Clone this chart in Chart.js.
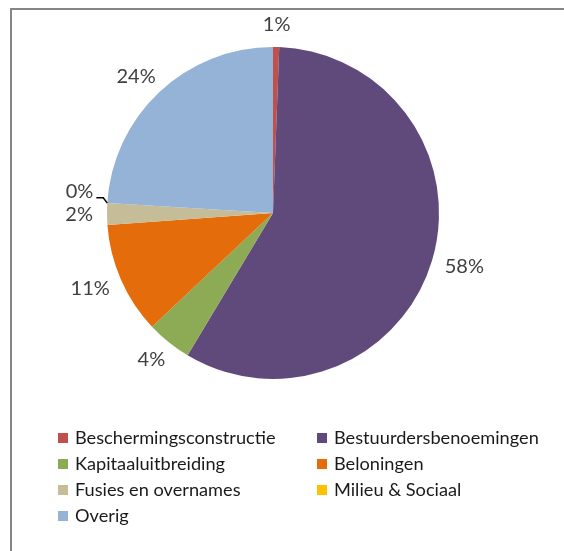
<!DOCTYPE html>
<html>
<head>
<meta charset="utf-8">
<script src="https://cdn.jsdelivr.net/npm/chart.js@4/dist/chart.umd.min.js"></script>
<style>
  html, body { margin: 0; padding: 0; background: #fff; }
  #wrap { position: relative; width: 564px; height: 551px; overflow: hidden; }
  #frame { position: absolute; left: 10px; top: 8px; width: 600px; height: 600px;
           border-top: 2px solid #868686; border-left: 2px solid #868686; }
  #c { position: absolute; left: 0; top: 0; }
  .lg { position: absolute; font-family: Lato, "Open Sans", sans-serif; font-size: 18.2px; color: #1a1a1a;
        white-space: nowrap; line-height: 22px; }
  .sw { position: absolute; width: 10px; height: 10px; }
</style>
</head>
<body>
<div id="wrap">
  <div id="frame"></div>
  <canvas id="c" width="564" height="551"></canvas>
  <div id="legend"></div>
</div>
<script>
const categories = ["Beschermingsconstructie", "Bestuurdersbenoemingen", "Kapitaaluitbreiding",
                    "Beloningen", "Fusies en overnames", "Milieu & Sociaal", "Overig"];
const shares = [0.6, 58.0, 4.4, 10.85, 2.1, 0, 24.05];
const colors = ["#C0504D", "#604A7B", "#8DAA55", "#E46C0A", "#C4BD97", "#FFC000", "#95B3D7"];

const labelFont = '20px Lato, "Open Sans", sans-serif';

const labelPlugin = {
  id: 'outsideLabels',
  afterDatasetsDraw(chart) {
    const ctx = chart.ctx;
    const meta = chart.getDatasetMeta(0);
    const data = chart.data.datasets[0].data;
    const total = data.reduce((a, b) => a + b, 0);
    ctx.save();
    ctx.font = labelFont;
    ctx.fillStyle = '#404040';
    ctx.textAlign = 'center';
    ctx.textBaseline = 'middle';
    const boxes = [];
    meta.data.forEach((arc, i) => {
      const { x, y, startAngle, endAngle, outerRadius } = arc.getProps(['x','y','startAngle','endAngle','outerRadius'], true);
      const mid = (startAngle + endAngle) / 2;
      const dx = Math.cos(mid), dy = Math.sin(mid);
      const txt = Math.round(data[i] / total * 100) + '%';
      const w = ctx.measureText(txt).width, h = 16;
      const g = 14;
      const ax = x + dx * (outerRadius + g), ay = y + dy * (outerRadius + g);
      let cx = ax + dx * w / 2, cy = ay + dy * h / 2;
      let moved = false;
      const overlaps = (bx, by) => boxes.some(b => Math.abs(b.cx - bx) < (b.w + w) / 2 && Math.abs(b.cy - by) < 22);
      while (overlaps(cx, cy)) { cy -= 1; moved = true; }
      boxes.push({ cx, cy, w });
      ctx.fillText(txt, cx, cy);
      if (moved) {
        const px = x + dx * outerRadius, py = y + dy * outerRadius;
        ctx.strokeStyle = '#000';
        ctx.lineWidth = 1.5;
        ctx.beginPath();
        ctx.moveTo(cx + w / 2 + 3, cy + 6);
        ctx.lineTo(px - 4, cy + 6);
        ctx.lineTo(px, py);
        ctx.stroke();
      }
    });
    ctx.restore();
  }
};

new Chart(document.getElementById('c'), {
  type: 'pie',
  data: {
    labels: categories,
    datasets: [{ data: shares, backgroundColor: colors, borderWidth: 0, hoverOffset: 0, offset: 0 }]
  },
  options: {
    responsive: false,
    animation: false,
    events: [],
    layout: { padding: { left: 107, top: 47, right: 125, bottom: 172 } },
    plugins: { legend: { display: false }, tooltip: { enabled: false } }
  },
  plugins: [labelPlugin]
});

// legend: two columns
const legend = document.getElementById('legend');
const colX = [58, 317], rowY0 = 438, rowStep = 26;
categories.forEach((name, i) => {
  const col = i % 2, row = Math.floor(i / 2);
  const sy = rowY0 + row * rowStep;
  const sw = document.createElement('div');
  sw.className = 'sw';
  sw.style.left = colX[col] + 'px';
  sw.style.top = (sy - 5) + 'px';
  sw.style.background = colors[i];
  legend.appendChild(sw);
  const t = document.createElement('div');
  t.className = 'lg';
  t.style.left = (colX[col] + 17) + 'px';
  t.style.top = (sy - 12) + 'px';
  t.textContent = name;
  legend.appendChild(t);
});
</script>
</body>
</html>
